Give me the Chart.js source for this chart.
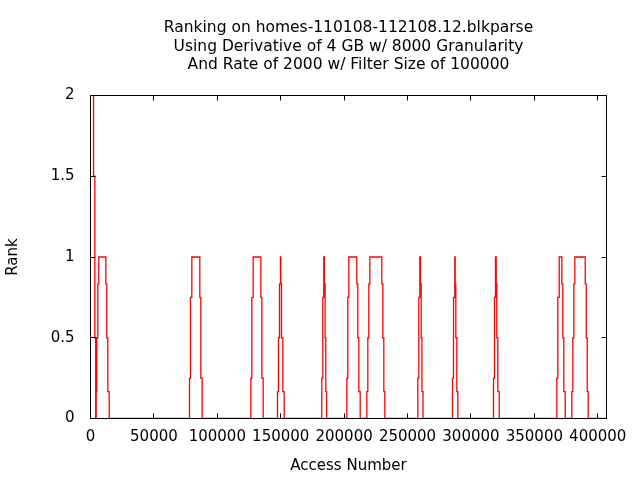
<!DOCTYPE html>
<html>
<head>
<meta charset="utf-8">
<script src="https://cdn.jsdelivr.net/npm/chart.js@4/dist/chart.umd.min.js"></script>
<style>
  html, body { margin: 0; padding: 0; background: #fff; }
  #wrap { width: 640px; height: 480px; }
</style>
</head>
<body>
<div id="wrap"><canvas id="rankChart" width="640" height="480"></canvas></div>
<script>
// rank steps: each point is where the rank changes to the new level
const accessNumber = [
    2400, 2400, 3400, 4100, 4500, 4970, 5760, 6540, 12070, 12850, 13640, 14750,
    78070, 78860, 79900, 86200, 87000, 88060,
    126430, 127220, 128270, 134330, 135120, 136170,
    147470, 148260, 149050, 149830, 150070, 150620, 151650, 152750,
    182400, 183190, 183980, 184450, 185000, 185550, 186200,
    202120, 202910, 203700, 210000, 210790, 211580, 212680,
    217890, 218680, 219470, 220260, 229720, 230510, 231300, 232080,
    258110, 258900, 259690, 260240, 260790, 261350, 262210,
    285470, 286260, 287290, 287600, 288080, 288870, 289650,
    317800, 318590, 319380, 319930, 320400, 321190, 322300,
    367720, 368510, 369610, 371660, 372450, 373240, 374340,
    379550, 380340, 381130, 381920, 390120, 390910, 391700, 392490,
    406900
];
const rank = [
    2, 1.5, 0.5, 0, 0.167, 0.5, 0.833, 1, 0.833, 0.5, 0.167, 0,
    0.25, 0.75, 1, 0.75, 0.25, 0,
    0.25, 0.75, 1, 0.75, 0.25, 0,
    0.167, 0.5, 0.833, 1, 0.833, 0.5, 0.167, 0,
    0.25, 0.75, 1, 0.833, 0.5, 0.167, 0,
    0.25, 0.75, 1, 0.833, 0.5, 0.167, 0,
    0.167, 0.5, 0.833, 1, 0.833, 0.5, 0.167, 0,
    0.25, 0.75, 1, 0.833, 0.5, 0.167, 0,
    0.25, 0.75, 1, 0.833, 0.5, 0.167, 0,
    0.25, 0.75, 1, 0.833, 0.5, 0.167, 0,
    0.25, 0.75, 1, 0.833, 0.5, 0.167, 0,
    0.167, 0.5, 0.833, 1, 0.833, 0.5, 0.167, 0,
    0
];

const xTicks = [0, 50000, 100000, 150000, 200000, 250000, 300000, 350000, 400000];
const yTicks = [0, 0.5, 1, 1.5, 2];

const titleLines = [
    "Ranking on homes-110108-112108.12.blkparse",
    "Using Derivative of 4 GB w/ 8000 Granularity",
    "And Rate of 2000 w/ Filter Size of 100000"
];

const points = accessNumber.map((x, i) => ({ x: x, y: rank[i] }));

// gnuplot style border with inward ticks, drawn over the data
const TICK = 5;
const framePlugin = {
    id: "frame",
    afterDatasetsDraw(chart) {
        const { ctx, chartArea: a, scales } = chart;
        ctx.save();
        ctx.strokeStyle = "#000";
        ctx.lineWidth = 1;
        ctx.beginPath();

        xTicks.forEach(v => {
            const px = Math.floor(scales.x.getPixelForValue(v)) + 0.5;
            ctx.moveTo(px, a.bottom);
            ctx.lineTo(px, a.bottom - TICK);
            ctx.moveTo(px, a.top);
            ctx.lineTo(px, a.top + TICK);
        });

        yTicks.forEach(v => {
            const py = Math.floor(scales.y.getPixelForValue(v)) + 0.5;
            ctx.moveTo(a.left, py);
            ctx.lineTo(a.left + TICK, py);
            ctx.moveTo(a.right, py);
            ctx.lineTo(a.right - TICK, py);
        });

        ctx.stroke();
        ctx.strokeRect(a.left, a.top, a.right - a.left, a.bottom - a.top);
        ctx.restore();
    }
};

Chart.defaults.font.family = "'DejaVu Sans', sans-serif";
Chart.defaults.font.size = 15;
Chart.defaults.color = "#000";

new Chart(document.getElementById("rankChart"), {
    type: "line",
    data: {
        datasets: [
            {
                data: points,
                borderColor: "#ff0000",
                borderWidth: 1.3,
                pointRadius: 0,
                stepped: "before",
                fill: false,
                tension: 0
            }
        ]
    },
    options: {
        responsive: false,
        animation: false,
        layout: {
            padding: { left: 0, right: 33.5, top: 0, bottom: 0 }
        },
        plugins: {
            legend: { display: false },
            tooltip: { enabled: false },
            title: {
                display: true,
                fullSize: false,
                text: titleLines,
                color: "#000",
                font: { size: 15.5, weight: "normal", lineHeight: 18.5 / 15.5 },
                padding: { top: 19, bottom: 21 }
            }
        },
        scales: {
            x: {
                type: "linear",
                min: 0,
                max: 406900,
                afterBuildTicks: s => { s.ticks = xTicks.map(v => ({ value: v })); },
                afterFit: s => { s.height = 61.5; },
                grid: { display: false, drawTicks: false },
                border: { display: false },
                ticks: {
                    padding: 10,
                    autoSkip: false,
                    maxRotation: 0,
                    callback: v => String(v)
                },
                title: {
                    display: true,
                    text: "Access Number",
                    padding: { top: 0, bottom: 5 }
                }
            },
            y: {
                min: 0,
                max: 2,
                afterBuildTicks: s => { s.ticks = yTicks.map(v => ({ value: v })); },
                afterFit: s => { s.width = 90.5; },
                grid: { display: false, drawTicks: false },
                border: { display: false },
                ticks: {
                    padding: 16,
                    callback: v => String(v)
                },
                title: {
                    display: true,
                    text: "Rank",
                    padding: { top: 4, bottom: 0 }
                }
            }
        }
    },
    plugins: [framePlugin]
});
</script>
</body>
</html>
